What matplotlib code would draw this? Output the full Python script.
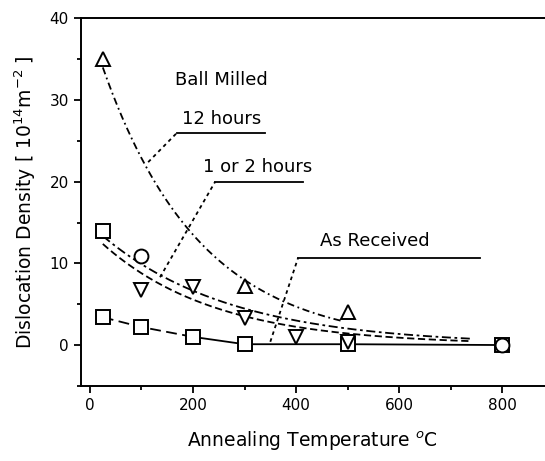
import numpy as np
import matplotlib
matplotlib.use("Agg")
import matplotlib.pyplot as plt

plt.rcParams['font.family'] = ['DejaVu Sans']

# measured points (annealing temperature in C, density in 1e14 m^-2)
h12_x = [25, 300, 500]
h12_y = [35.0, 7.2, 4.1]

h1_x = [100, 800]
h1_y = [10.9, 0.0]

h2_x = [100, 200, 300, 400, 500]
h2_y = [6.7, 7.1, 3.3, 1.0, 0.4]

milled_x = [25]
milled_y = [14.0]

recv_x = [25, 100, 200, 300, 500, 800]
recv_y = [3.4, 2.2, 1.0, 0.1, 0.1, 0.0]

# points
fit12_x = [25, 113, 190, 258, 373, 485]
fit12_y = [35.0, 22.4, 13.4, 9.6, 5.2, 3.2]
fitA_x = [25, 136, 239, 330, 544]
fitA_y = [14.0, 8.4, 5.9, 3.5, 1.8]
fitB_x = [25, 175, 272, 400, 544]
fitB_y = [13.5, 6.0, 3.8, 2.0, 1.3]


def expFit(x, y, x0, x1):
    p = np.polyfit(np.array(x, float), np.log(np.array(y, float)), 1)
    xs = np.linspace(x0, x1, 200)
    return xs, np.exp(np.polyval(p, xs))


fig = plt.figure(figsize=(5.45, 4.61), dpi=100)
ax = fig.add_axes([0.148, 0.163, 0.852, 0.797])

xs, ys = expFit(fit12_x, fit12_y, 25, 490)
ax.plot(xs, ys, color='k', lw=1.3, ls=(0, (4, 2, 1, 2)))
xs, ys = expFit(fitA_x, fitA_y, 25, 740)
ax.plot(xs, ys, color='k', lw=1.3, ls=(0, (5, 2, 1.5, 2)))
xs, ys = expFit(fitB_x, fitB_y, 25, 740)
ax.plot(xs, ys, color='k', lw=1.3, ls=(0, (4, 2)))

# as received: dashed at low T, solid afterwards
ax.plot(recv_x[:3], recv_y[:3], color='k', lw=1.3, ls=(0, (6, 3)))
ax.plot(recv_x[2:], recv_y[2:], color='k', lw=1.3)

mk = dict(ls='none', mfc='white', mec='k', mew=1.4, ms=10)
ax.plot(recv_x, recv_y, marker='s', **mk)
ax.plot(milled_x, milled_y, marker='s', **mk)
ax.plot(h1_x, h1_y, marker='o', **mk)
ax.plot(h2_x, h2_y, marker='v', **mk)
ax.plot(h12_x, h12_y, marker='^', **mk)

# labels with underline and dashed leader
ax.text(165, 32.4, 'Ball Milled', fontsize=13, va='center')
labels = [
    ('12 hours', 179, 27.7, 169, 340, 26.0, 113, 22.4),
    ('1 or 2 hours', 219, 21.8, 243, 414, 20.0, 136, 8.3),
    ('As Received', 447, 12.7, 404, 757, 10.7, 350, 0.4),
]
for txt, tx, ty, lx0, lx1, ly, px, py in labels:
    ax.text(tx, ty, txt, fontsize=13, va='center')
    ax.plot([lx0, lx1], [ly, ly], color='k', lw=1.3)
    ax.plot([px, lx0], [py, ly], color='k', lw=1.3, ls=(0, (2, 2)))

ax.set_xlim(-18, 883)
ax.set_ylim(-5, 40)
ax.set_xticks([0, 200, 400, 600, 800])
ax.set_xticks([100, 300, 500, 700], minor=True)
ax.set_yticks([0, 10, 20, 30, 40])
ax.set_yticks([-5, 5, 15, 25, 35], minor=True)
ax.tick_params(which='major', direction='out', length=5, width=1.3, labelsize=11)
ax.tick_params(which='minor', direction='out', length=3, width=1.3)
ax.spines['right'].set_visible(False)
for s in ['left', 'top', 'bottom']:
    ax.spines[s].set_linewidth(1.4)

ax.set_xlabel('Annealing Temperature $^o$C', fontsize=13.5, labelpad=12)
ax.set_ylabel('Dislocation Density [ 10$^{14}$m$^{-2}$ ]', fontsize=13.5, labelpad=8)

fig.savefig('out.png', dpi=100)
